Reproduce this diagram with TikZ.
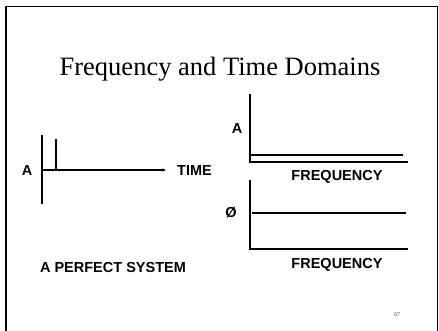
\documentclass[tikz,border=0pt]{standalone}
\usepackage{fontspec}
\usetikzlibrary{arrows.meta}
\setmainfont{Liberation Serif}
\setsansfont{Liberation Sans}
\begin{document}
\begin{tikzpicture}[x=1pt,y=-1pt,
  ax/.style={line width=1.7pt},
  lbl/.style={font=\sffamily\bfseries\fontsize{14.5}{15}\selectfont, inner sep=0pt},
  arr/.style={line width=1.7pt,-{Stealth[length=4pt,width=3pt]}}]
\useasboundingbox (0,0) rectangle (439,330);
\fill[white] (0,0) rectangle (439,330);
% frame
\draw[line width=1.3pt] (6,331) -- (6,6.5) -- (437.5,6.5) -- (437.5,331);
% title
\node[font=\fontsize{26.5}{28}\selectfont, inner sep=0pt] (title) at (220,69) {Frequency and Time Domains};
% left diagram
\coordinate (ltop) at (42,135);
\coordinate (lbot) at (42,204);
\coordinate (orig) at (42,170);
\coordinate (xend) at (166,170);
\coordinate (imptop) at (56,139);
\coordinate (impbot) at (56,170);
\draw[ax] (ltop) -- (lbot);
\draw[arr] (orig) -- (xend);
\draw[ax] (imptop) -- (impbot);
\node[lbl] (la) at (27,171) {A};
\node[lbl, anchor=west] (time) at (177,171) {TIME};
\node[lbl] (perfect) at (113,268) {A PERFECT SYSTEM};
% right top
\coordinate (rt1) at (250,94);
\coordinate (ro1) at (250,162);
\coordinate (rx1) at (408,162);
\coordinate (amp1) at (250,155);
\coordinate (amp2) at (403,155);
\draw[ax] (rt1) -- (ro1) -- (rx1);
\draw[ax] (amp1) -- (amp2);
\node[lbl] (ra) at (237,129) {A};
\node[lbl] (f1) at (337,177) {FREQUENCY};
% right bottom
\coordinate (rt2) at (250,180);
\coordinate (ro2) at (250,249);
\coordinate (rx2) at (408,249);
\coordinate (ph1) at (252,213);
\coordinate (ph2) at (406,213);
\draw[ax] (rt2) -- (ro2) -- (rx2);
\draw[ax] (ph1) -- (ph2);
\node[lbl] (phi) at (231,213) {Ø};
\node[lbl] (f2) at (337,265) {FREQUENCY};
% page number
\node[font=\fontsize{6}{7}\selectfont, inner sep=0pt, text=black!70] (pg) at (397,315) {67};
\end{tikzpicture}
\end{document}
